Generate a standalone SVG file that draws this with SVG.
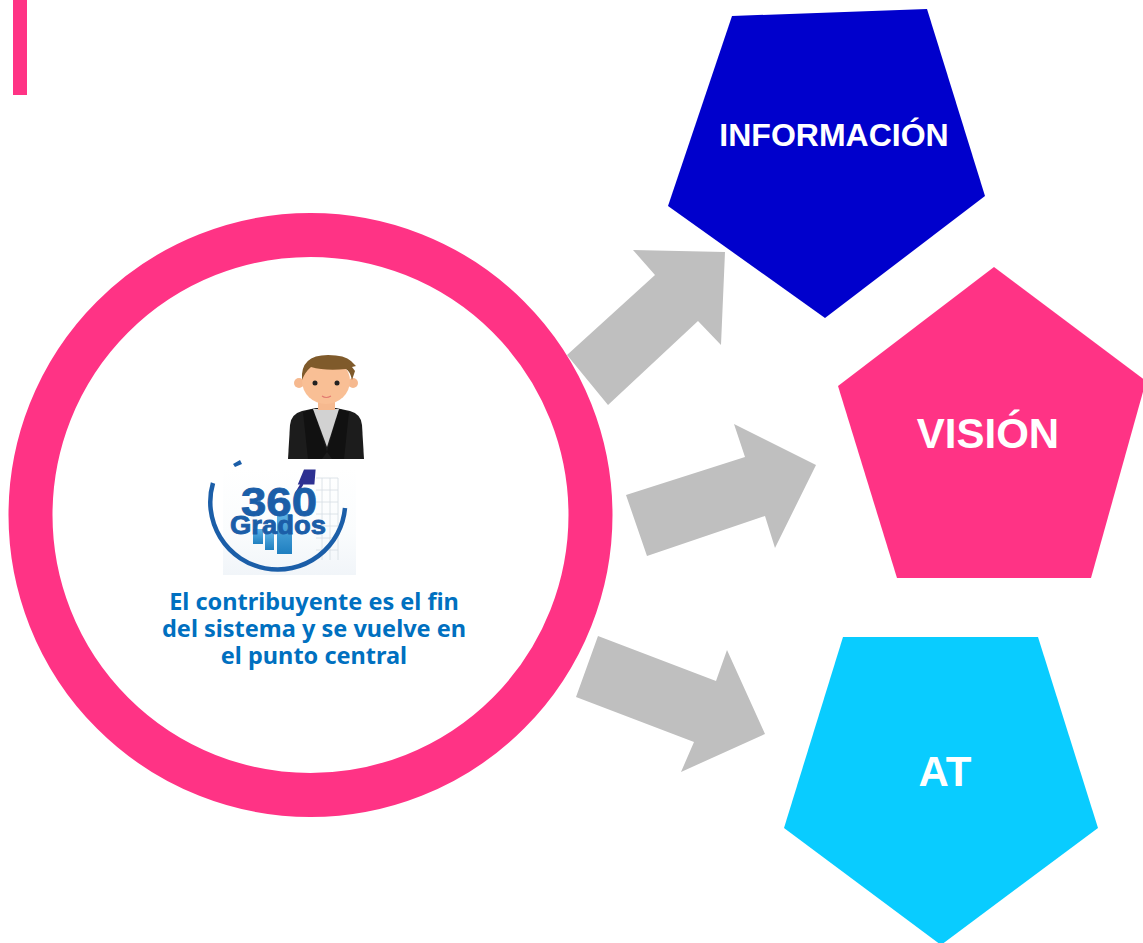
<svg xmlns="http://www.w3.org/2000/svg" width="1143" height="943" viewBox="0 0 1143 943">
<defs><style>
.lbl{font-family:"Liberation Sans",Arial,sans-serif;font-weight:700;fill:#fff;text-anchor:middle}
.cap{font-family:"Noto Sans",Roboto,sans-serif;font-weight:700;font-size:23.5px;fill:#0070c0;text-anchor:middle}
.conn{fill:#bfbfbf}
.logo{font-family:"Liberation Sans",Arial,sans-serif;font-weight:700;fill:#1b5ea8;stroke:#1b5ea8;stroke-width:.8;text-anchor:middle}
</style>
<linearGradient id="bar" x1="0" y1="0" x2="0" y2="1"><stop offset="0" stop-color="#5fb3e6"/><stop offset="1" stop-color="#1f7fc0"/></linearGradient>
<linearGradient id="bg" x1="0" y1="0" x2="0" y2="1"><stop offset="0" stop-color="#fff"/><stop offset=".6" stop-color="#fafcfd"/><stop offset="1" stop-color="#f1f5f9"/></linearGradient>
</defs>
<rect width="1143" height="943" fill="#fff"/>
<rect id="accent" x="13" y="0" width="14" height="95" fill="#ff3385"/>
<g id="connectors">
<polygon class="conn" points="567,355 655,275 633,250 725,252 721,345 698,321 608,405"/>
<polygon class="conn" points="626,495 745,457 734,424 816,465 775,548 765,516 647,556"/>
<polygon class="conn" points="598,636 716,681 727,650 765,734 681,772 694,742 576,697"/>
</g>
<g id="center">
<circle cx="310.500" cy="515" r="280" fill="#fff" stroke="#ff3385" stroke-width="44"/>
<g id="person">
<path d="M288,459 L290,425 Q291,414 302,411 L316,408 L336,408 L350,411 Q361,414 362,425 L364,459 Z" fill="#1c1c1c"/>
<path d="M303,412 L313,409 L327,452 L322,459 L308,459 Z M349,412 L339,409 L327,452 L332,459 L344,459 Z" fill="#111"/>
<path d="M313,409 L339,409 L327,447 Z" fill="#d2d2d2"/>
<rect x="318" y="400" width="17" height="10" fill="#f6b98f"/>
<circle cx="299" cy="383" r="5" fill="#f6b98f"/><circle cx="353" cy="383" r="5" fill="#f6b98f"/>
<ellipse cx="326" cy="381" rx="24" ry="23" fill="#f9bf95"/>
<path d="M302,380 Q300,355 328,355 Q345,355 351,361 L356,366 L352,367 L355,371 L352,380 Q350,371 346,369 Q325,371 311,367 Q305,372 302,380 Z" fill="#7f5a2b"/>
<circle cx="315" cy="383" r="2.500" fill="#222"/><circle cx="337" cy="383" r="2.500" fill="#222"/>
<path d="M322,396 Q326,399 331,396" fill="none" stroke="#e27a70" stroke-width="1.200"/>
</g>
<g id="logo">
<rect x="223" y="468" width="133" height="107" fill="url(#bg)"/>
<g stroke="#d5dde3" stroke-width=".8" fill="none"><path d="M316,478H338M316,490H338M316,502H338M316,514H338M316,526H338M316,538H338M316,550H338M322,478V560M330,478V560M338,478V560"/></g>
<rect x="253" y="529" width="10" height="15" fill="url(#bar)"/><rect x="265" y="532" width="9" height="18" fill="url(#bar)"/><rect x="277" y="514" width="15" height="40" fill="url(#bar)"/>
<path d="M213,483 A67.500,67.500 0 1 0 345,508" fill="none" stroke="#1b5ea8" stroke-width="4.500"/>
<path d="M233,464 L240,460 L242,464 L235,467 Z" fill="#1b5ea8"/>
<path d="M300,483 L305,471 L314,471 L313,483 Z M302,484 L296,494" fill="#2e3192" stroke="#2e3192" stroke-width="3"/>
<text class="logo"><tspan x="279" y="516" font-size="40" textLength="76" lengthAdjust="spacingAndGlyphs">360</tspan><tspan x="278" y="534" font-size="25" textLength="96" lengthAdjust="spacingAndGlyphs">Grados</tspan></text>
</g>
<text class="cap"><tspan x="314" y="610">El contribuyente es el fin</tspan><tspan x="314" y="637">del sistema y se vuelve en</tspan><tspan x="314" y="664">el punto central</tspan></text>
</g>
<g id="informacion">
<polygon points="732,16 927,9 985,196 825,318 668,206" fill="#0000cc"/>
<text class="lbl" x="834" y="146" font-size="32">INFORMACIÓN</text>
</g>
<g id="vision">
<polygon points="994,267 1146,381 1091,578 897,578 838,386" fill="#ff3385"/>
<text class="lbl" x="988" y="448" font-size="42">VISIÓN</text>
</g>
<g id="at">
<polygon points="843,637 1038,637 1098,828 941,945 784,828" fill="#09ccff"/>
<text class="lbl" x="945" y="786" font-size="42">AT</text>
</g>
</svg>
